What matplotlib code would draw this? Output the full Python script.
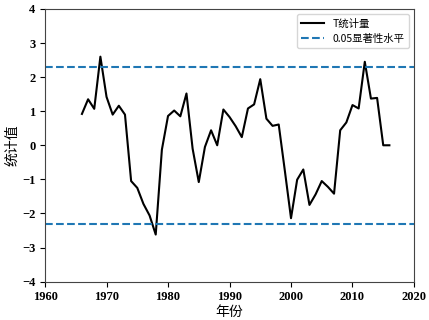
import matplotlib
matplotlib.use("Agg")
from matplotlib import pyplot as plt

years = list(range(1966, 2017))
t_stat = [0.92, 1.35, 1.07, 2.60, 1.42, 0.90, 1.16, 0.90, -1.05, -1.25,
          -1.72, -2.06, -2.62, -0.13, 0.86, 1.02, 0.85, 1.52, -0.10, -1.08,
          -0.05, 0.44, 0.00, 1.05, 0.83, 0.56, 0.24, 1.08, 1.20, 1.94,
          0.78, 0.57, 0.61, -0.75, -2.14, -1.01, -0.71, -1.75, -1.44, -1.05,
          -1.22, -1.42, 0.44, 0.67, 1.18, 1.08, 2.45, 1.37, 1.39, 0.00,
          0.00]
level = 2.3

cjk = ['Noto Sans CJK SC', 'DejaVu Sans']
plt.rcParams['font.family'] = cjk

fig = plt.figure(figsize=(4.29, 3.2), dpi=100)
ax = fig.add_axes([0.105, 0.12, 0.86, 0.852])

ax.plot(years, t_stat, color='black', lw=1.5, label='T统计量')
ax.axhline(level, color='#1f77b4', ls='--', lw=1.5, label='0.05显著性水平')
ax.axhline(-level, color='#1f77b4', ls='--', lw=1.5)

ax.set_xlim(1960, 2020)
ax.set_ylim(-4, 4)
ax.set_xticks(range(1960, 2021, 10))
ax.set_yticks(range(-4, 5))
for lab in ax.get_xticklabels() + ax.get_yticklabels():
    lab.set_family('Liberation Serif')
    lab.set_fontweight('bold')
    lab.set_fontsize(9)
for s in ax.spines.values():
    s.set_color('#444444')

ax.set_xlabel('年份', fontsize=10, labelpad=1)
ax.set_ylabel('统计值', fontsize=10, labelpad=2)
ax.legend(loc='upper right', fontsize=7.5, handlelength=2.2)

fig.savefig('out.png', dpi=100)
